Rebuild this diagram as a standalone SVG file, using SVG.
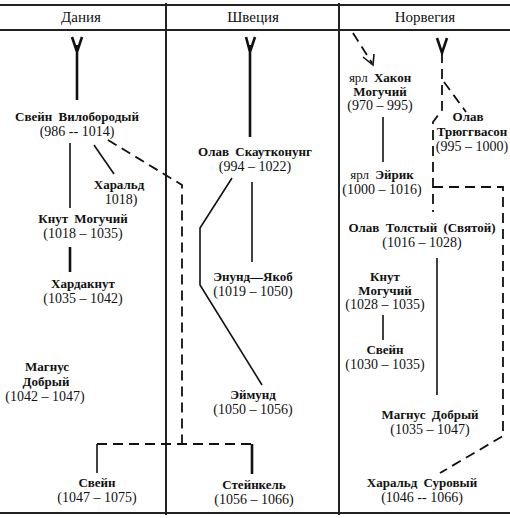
<svg xmlns="http://www.w3.org/2000/svg" width="510" height="518" viewBox="0 0 510 518">
<style>
text{font-family:"Liberation Serif","DejaVu Serif",serif;fill:#111;text-anchor:middle}
.h{font-size:15px}
.n{font-size:13px;font-weight:bold;word-spacing:3px}
.y{font-size:14px}
.r{font-weight:normal}
.frame{stroke:#222;stroke-width:2;fill:none}
.s{stroke:#111;stroke-width:1.6;fill:none}
.t{stroke:#111;stroke-width:2.6;fill:none}
.d{stroke:#111;stroke-width:1.8;fill:none;stroke-dasharray:10 6}
</style>
<g id="frame">
<line class="frame" x1="0" y1="5" x2="510" y2="5"/>
<line class="frame" x1="0" y1="30" x2="510" y2="30"/>
<line class="frame" x1="0" y1="513" x2="510" y2="513"/>
<line class="frame" x1="166" y1="3" x2="166" y2="515"/>
<line class="frame" x1="339" y1="3" x2="339" y2="515"/>
<text class="h" x="81" y="22">Дания</text>
<text class="h" x="253" y="22">Швеция</text>
<text class="h" x="425" y="22">Норвегия</text>
</g>
<g id="connectors">
<path class="t" d="M72 37L77 52L82 37M77 45V100"/>
<path class="t" d="M246 37L250 52L255 37M250 45V137"/>
<path class="t" d="M437 38L442 53L447 38"/>
<line class="s" x1="70" y1="143" x2="70" y2="208"/>
<line class="s" x1="94" y1="145" x2="114" y2="174"/>
<path class="d" d="M108 140L182 185V444"/>
<path class="d" d="M97 444H252"/>
<line class="s" x1="97" y1="444" x2="97" y2="473"/>
<line class="t" x1="252" y1="444" x2="252" y2="474"/>
<line class="t" x1="70" y1="247" x2="70" y2="272"/>
<path class="s" d="M232 178L200 228V285L262 385"/>
<line class="s" x1="252" y1="182" x2="252" y2="262"/>
<path class="d" d="M353 33L372 63" stroke-dasharray="8 7"/>
<path class="s" d="M363 57L373 65L374 54"/>
<path class="d" d="M442 53V110L433 122V212" stroke-dasharray="9 7"/>
<path class="d" d="M444 82L466 112" stroke-dasharray="9 10"/>
<path class="d" d="M433 187H503V436L440 473"/>
<line class="s" x1="383" y1="117" x2="383" y2="162"/>
<line class="s" x1="437" y1="258" x2="437" y2="395"/>
<line class="s" x1="383" y1="315" x2="383" y2="340"/>
</g>
<g id="svein-vilo"><text class="n" x="77" y="121">Свейн Вилобородый</text><text class="y" x="77" y="136">(986 -- 1014)</text></g>
<g id="harald-dk"><text class="n" x="119" y="189">Харальд</text><text class="y" x="121" y="204">1018)</text></g>
<g id="knut-dk"><text class="n" x="83" y="223">Кнут Могучий</text><text class="y" x="83" y="238">(1018 – 1035)</text></g>
<g id="hardaknut"><text class="n" x="83" y="288">Хардакнут</text><text class="y" x="83" y="303">(1035 – 1042)</text></g>
<g id="magnus-dk"><text class="n" x="47" y="371">Магнус</text><text class="n" x="46" y="386">Добрый</text><text class="y" x="45" y="401">(1042 – 1047)</text></g>
<g id="svein-dk"><text class="n" x="97" y="487">Свейн</text><text class="y" x="97" y="502">(1047 – 1075)</text></g>
<g id="olav-sk"><text class="n" x="255" y="156">Олав Скаутконунг</text><text class="y" x="255" y="171">(994 – 1022)</text></g>
<g id="enund"><text class="n" x="253" y="281">Энунд—Якоб</text><text class="y" x="253" y="296">(1019 – 1050)</text></g>
<g id="eimund"><text class="n" x="253" y="399">Эймунд</text><text class="y" x="253" y="414">(1050 – 1056)</text></g>
<g id="steinkel"><text class="n" x="254" y="489">Стейнкель</text><text class="y" x="254" y="504">(1056 – 1066)</text></g>
<g id="hakon"><text class="n" x="380" y="82"><tspan class="r">ярл</tspan> Хакон</text><text class="n" x="380" y="96">Могучий</text><text class="y" x="380" y="110">(970 – 995)</text></g>
<g id="olav-tr"><text class="n" x="468" y="121">Олав</text><text class="n" x="472" y="136">Трюггвасон</text><text class="y" x="472" y="151">(995 – 1000)</text></g>
<g id="eirik"><text class="n" x="382" y="179"><tspan class="r">ярл</tspan> Эйрик</text><text class="y" x="382" y="194">(1000 – 1016)</text></g>
<g id="olav-tol"><text class="n" x="422" y="232">Олав Толстый (Святой)</text><text class="y" x="422" y="247">(1016 – 1028)</text></g>
<g id="knut-no"><text class="n" x="385" y="281">Кнут</text><text class="n" x="385" y="295">Могучий</text><text class="y" x="385" y="309">(1028 – 1035)</text></g>
<g id="svein-no"><text class="n" x="385" y="354">Свейн</text><text class="y" x="385" y="369">(1030 – 1035)</text></g>
<g id="magnus-no"><text class="n" x="430" y="419">Магнус Добрый</text><text class="y" x="430" y="434">(1035 – 1047)</text></g>
<g id="harald-no"><text class="n" x="422" y="487">Харальд Суровый</text><text class="y" x="422" y="502">(1046 -- 1066)</text></g>
</svg>
